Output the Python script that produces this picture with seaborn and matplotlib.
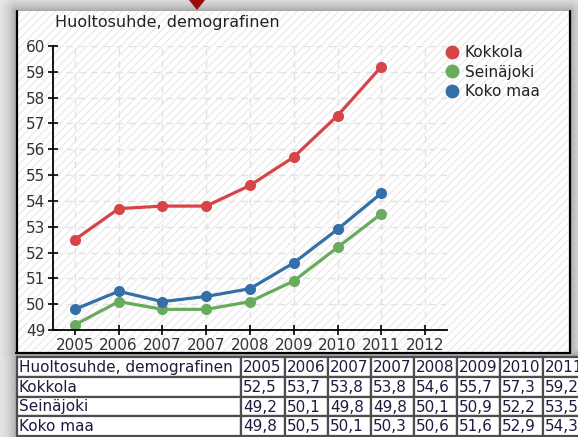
import numpy as np
import pandas as pd
import matplotlib
matplotlib.use("Agg")
import matplotlib.pyplot as plt
from matplotlib.patches import Rectangle, Polygon
from matplotlib.lines import Line2D
import seaborn as sns

# ---- data ----
title = "Huoltosuhde, demografinen"
years = ["2005", "2006", "2007", "2007", "2008", "2009", "2010", "2011"]
axis_years = years + ["2012"]
kokkola = [52.5, 53.7, 53.8, 53.8, 54.6, 55.7, 57.3, 59.2]
seinajoki = [49.2, 50.1, 49.8, 49.8, 50.1, 50.9, 52.2, 53.5]
koko_maa = [49.8, 50.5, 50.1, 50.3, 50.6, 51.6, 52.9, 54.3]
series_names = ["Kokkola", "Seinäjoki", "Koko maa"]
series_values = [kokkola, seinajoki, koko_maa]
colors = ["#d64447", "#69ab5d", "#3470a7"]

W, H, DPI = 578, 437, 100
sns.set_theme(style="white")
plt.rcParams["font.family"] = ["DejaVu Sans"]
plt.rcParams["hatch.linewidth"] = 1.0

fig = plt.figure(figsize=(W / DPI, H / DPI), dpi=DPI)


def fx(px):
    return px / W


def fy(py):
    return 1 - py / H


# ---- soft drop shadow around the panel and table ----
bg = fig.add_axes([0, 0, 1, 1], zorder=-10)
yy, xx = np.mgrid[0:H, 0:W] + 0.5


def rect_dist(x0, x1, y0, y1):
    dx = np.maximum(np.maximum(x0 - xx, xx - x1), 0)
    dy = np.maximum(np.maximum(y0 - yy, yy - y1), 0)
    return np.hypot(dx, dy)


dist = np.minimum(rect_dist(16, 570, 11, 353), rect_dist(17, W + 20, 355, H + 20))
shade = 0.95 - 0.30 * np.exp(-dist / 10)
bg.imshow(shade, cmap="gray", vmin=0, vmax=1, extent=[0, W, H, 0],
          aspect="auto", interpolation="bilinear")
bg.set_xlim(0, W)
bg.set_ylim(H, 0)
bg.axis("off")

# ---- chart panel with faint diagonal hatching ----
fig.add_artist(Rectangle((fx(16), fy(353)), (570 - 16) / W, (353 - 11) / H,
                         transform=fig.transFigure, facecolor="white",
                         edgecolor="#ececec", hatch="////", linewidth=0, zorder=-5))
for xs, ys in [((16.5, 16.5), (11, 353)), ((569.5, 569.5), (11, 353)),
               ((16, 570), (352.5, 352.5))]:
    fig.add_artist(Line2D([fx(x) for x in xs], [fy(y) for y in ys],
                          transform=fig.transFigure, color="black", lw=1.6, zorder=-4))

# pointer marker at the top
fig.add_artist(Polygon([(fx(189), fy(0)), (fx(205), fy(0)), (fx(197), fy(10))],
                       closed=True, transform=fig.transFigure,
                       facecolor="#9c0a0a", edgecolor="none"))

# ---- line chart ----
ax = fig.add_axes([fx(53), fy(330), (447 - 53) / W, (330 - 46) / H])
ax.patch.set_alpha(0)

rows = []
for name, vals in zip(series_names, series_values):
    for i, v in enumerate(vals):
        rows.append({"pos": i, "value": v, "series": name})
df = pd.DataFrame(rows)

sns.lineplot(data=df, x="pos", y="value", hue="series", hue_order=series_names,
             palette=colors, marker="o", markersize=8, markeredgewidth=0,
             linewidth=2.3, errorbar=None, legend=False, ax=ax, sort=False)

ax.set_xlim(-0.5, 8.5)
ax.set_ylim(49, 60)
ax.set_xticks(range(len(axis_years)))
ax.set_xticklabels(axis_years)
ax.set_yticks(range(49, 61))
ax.set_xlabel("")
ax.set_ylabel("")
ax.grid(True, color="#e2e2e2", linestyle=(0, (5, 4)), linewidth=1)
ax.set_axisbelow(True)
for side in ["top", "right"]:
    ax.spines[side].set_visible(False)
for side in ["left", "bottom"]:
    ax.spines[side].set_color("black")
    ax.spines[side].set_linewidth(1.3)
ax.tick_params(direction="inout", length=7, width=1.2, color="black",
               labelsize=11, labelcolor="#333333", pad=2,
               left=True, bottom=True)

fig.text(fx(55), fy(23), title, fontsize=11.5, color="#222222",
         ha="left", va="center")

handles = [Line2D([], [], marker="o", linestyle="none", color=c,
                  markersize=10, markeredgewidth=0) for c in colors]
fig.legend(handles, series_names, loc="upper left",
           bbox_to_anchor=(fx(444), fy(45)), bbox_transform=fig.transFigure,
           frameon=False, fontsize=11, handletextpad=0.35, labelspacing=0.3,
           borderpad=0, borderaxespad=0, handlelength=1.0,
           labelcolor="#222222")

# ---- data table under the chart ----
col_edges = [17, 241, 285, 328, 371, 414, 457, 500, 543, 586]
row_edges = [357, 377, 397, 416, 436]
table_rows = [[title] + years]
for name, vals in zip(series_names, series_values):
    table_rows.append([name] + [f"{v:.1f}".replace(".", ",") for v in vals])

for r, cells in enumerate(table_rows):
    y0, y1 = row_edges[r], row_edges[r + 1]
    for c, txt in enumerate(cells):
        x0, x1 = col_edges[c], col_edges[c + 1]
        fig.add_artist(Rectangle((fx(x0), fy(y1)), (x1 - x0) / W, (y1 - y0) / H,
                                 transform=fig.transFigure, facecolor="white",
                                 edgecolor="#4d4d4d", linewidth=1.6))
        fig.text(fx(x0 + 2), fy((y0 + y1) / 2 + 0.5), txt, fontsize=11,
                 color="#1c1c40", ha="left", va="center")

fig.savefig("out.png", dpi=DPI)
